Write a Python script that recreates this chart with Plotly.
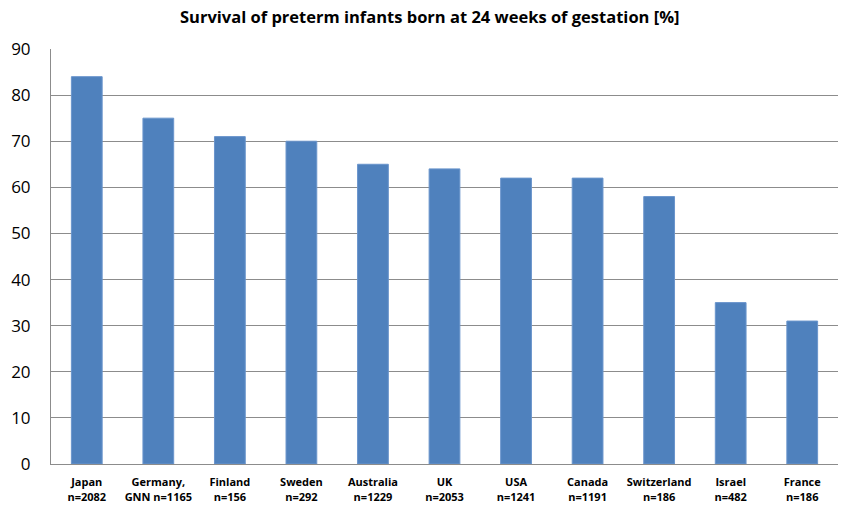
import plotly.graph_objects as go

countries = ["Japan", "Germany,", "Finland", "Sweden", "Australia", "UK", "USA",
             "Canada", "Switzerland", "Israel", "France"]
sample_sizes = ["n=2082", "GNN n=1165", "n=156", "n=292", "n=1229", "n=2053",
                "n=1241", "n=1191", "n=186", "n=482", "n=186"]
survival = [84, 75, 71, 70, 65, 64, 62, 62, 58, 35, 31]
y_ticks = [0, 10, 20, 30, 40, 50, 60, 70, 80, 90]

labels = [f"<b>{c}<br>{n}</b>" for c, n in zip(countries, sample_sizes)]

fig = go.Figure(go.Bar(
    x=labels, y=survival,
    marker=dict(color="#4F81BD", line=dict(color="#6A95CC", width=1)),
    hoverinfo="skip",
))
fig.update_layout(
    width=846, height=505,
    margin=dict(l=51, r=8, t=49, b=41),
    paper_bgcolor="white", plot_bgcolor="white",
    bargap=0.57,
    font=dict(family="Open Sans, sans-serif", color="black"),
    title=dict(text="<b>Survival of preterm infants born at 24 weeks of gestation [%]</b>",
               x=0.508, xanchor="center", y=0.965, yanchor="middle",
               font=dict(size=16.5, color="black")),
    showlegend=False,
)
fig.update_xaxes(showline=True, linecolor="#8C8C8C", linewidth=1, automargin=False,
                 tickfont=dict(size=11), ticks="", showgrid=False, ticklabelstandoff=8)
fig.update_yaxes(range=[0, 90], tickvals=y_ticks, showgrid=True, gridcolor="#8C8C8C",
                 gridwidth=1, showline=True, linecolor="#8C8C8C", linewidth=1,
                 automargin=False, ticklabelstandoff=16,
                 tickfont=dict(size=17), ticks="", ticklen=0, zeroline=False)
fig.write_html("out.html", config={"displayModeBar": False},
               post_script="document.body.style.margin='0';document.body.style.padding='0';")
